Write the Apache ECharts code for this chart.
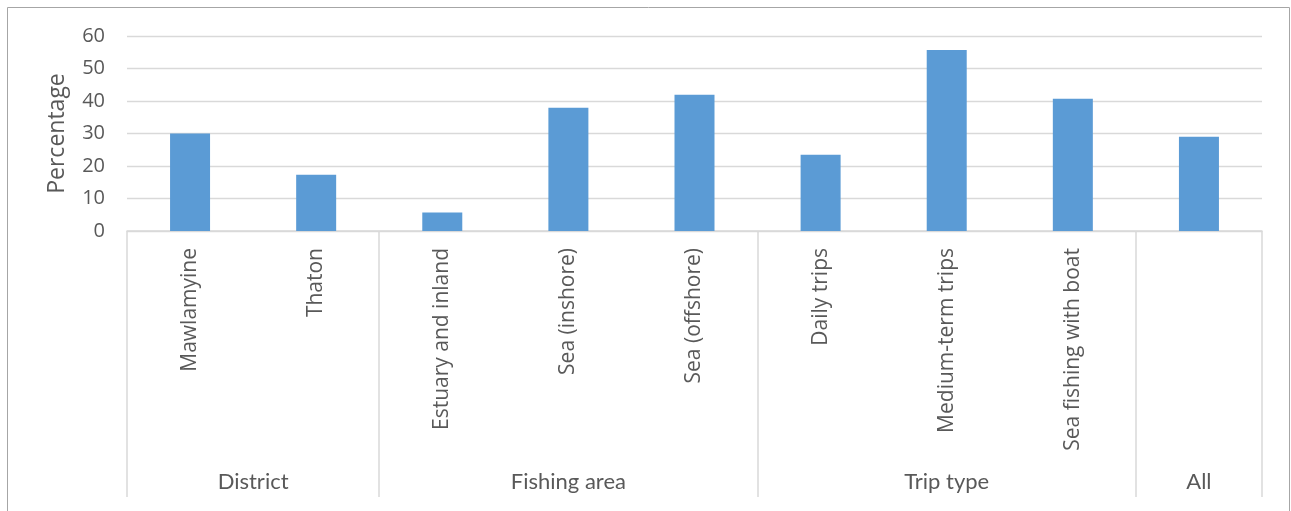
<!DOCTYPE html>
<html>
<head>
<meta charset="utf-8">
<script src="https://cdn.jsdelivr.net/npm/echarts@6/dist/echarts.min.js"></script>
<style>
html,body{margin:0;padding:0;background:#fff;}
#chart{width:1291px;height:511px;}
</style>
</head>
<body>
<div id="chart"></div>
<script>
const categories = ['Mawlamyine','Thaton','Estuary and inland','Sea (inshore)','Sea (offshore)','Daily trips','Medium-term trips','Sea fishing with boat','All'];
const categoryLabels = ['Mawlamyine','Thaton','Estuary and inland','Sea (inshore)','Sea (offshore)','Daily trips','Medium-term trips','Sea fishing with boat',''];
const values = [30.0, 17.3, 5.7, 37.9, 41.9, 23.5, 55.7, 40.7, 29.0];
const groups = ['District','Fishing area','Trip type','All'];
const groupSizes = [2, 3, 3, 1];
const yTicks = [0, 10, 20, 30, 40, 50, 60];

// derive group boundaries and centers from group sizes
const boundaries = [0];
groupSizes.forEach(s => boundaries.push(boundaries[boundaries.length - 1] + s));
const centers = groups.map((g, i) => (boundaries[i] + boundaries[i + 1]) / 2);

const labelColor = '#595959';
const lineColor = '#d9d9d9';

const chart = echarts.init(document.getElementById('chart'));
chart.setOption({
  animation: false,
  graphic: [{
    type: 'rect',
    shape: { x: 7.5, y: 7.5, width: 1282, height: 520 },
    style: { fill: 'none', stroke: '#a6a6a6', lineWidth: 1 },
    silent: true
  }],
  grid: { left: 127, right: 29, top: 36, bottom: 280, containLabel: false },
  xAxis: [{
    type: 'category',
    data: categories,
    axisLine: { show: true, lineStyle: { color: lineColor, width: 1.5 } },
    axisTick: { show: false },
    axisLabel: {
      rotate: 90,
      interval: 0,
      margin: 17,
      color: labelColor,
      fontFamily: 'Open Sans',
      fontSize: 21,
      formatter: function (v, i) { return categoryLabels[i]; }
    }
  }, {
    type: 'value',
    position: 'bottom',
    min: boundaries[0],
    max: boundaries[boundaries.length - 1],
    axisLine: { show: false },
    splitLine: { show: false },
    axisTick: {
      show: true,
      customValues: boundaries,
      length: 266,
      lineStyle: { color: lineColor, width: 1.5 }
    },
    axisLabel: {
      customValues: centers,
      margin: 240,
      color: labelColor,
      fontFamily: 'Lato',
      fontSize: 22,
      formatter: function (v) {
        const i = centers.indexOf(v);
        return i >= 0 ? groups[i] : '';
      }
    }
  }],
  yAxis: {
    type: 'value',
    min: yTicks[0],
    max: yTicks[yTicks.length - 1],
    interval: 10,
    name: 'Percentage',
    nameLocation: 'middle',
    nameGap: 58,
    nameRotate: 90,
    nameTextStyle: { color: labelColor, fontFamily: 'Open Sans', fontSize: 23 },
    axisLine: { show: false },
    axisTick: { show: false },
    axisLabel: { color: labelColor, fontFamily: 'Open Sans', fontSize: 20, margin: 22 },
    splitLine: { lineStyle: { color: lineColor, width: 1.3 } }
  },
  series: [{
    type: 'bar',
    xAxisIndex: 0,
    data: values,
    barWidth: 40,
    itemStyle: { color: '#5b9bd5' }
  }]
});
</script>
</body>
</html>
